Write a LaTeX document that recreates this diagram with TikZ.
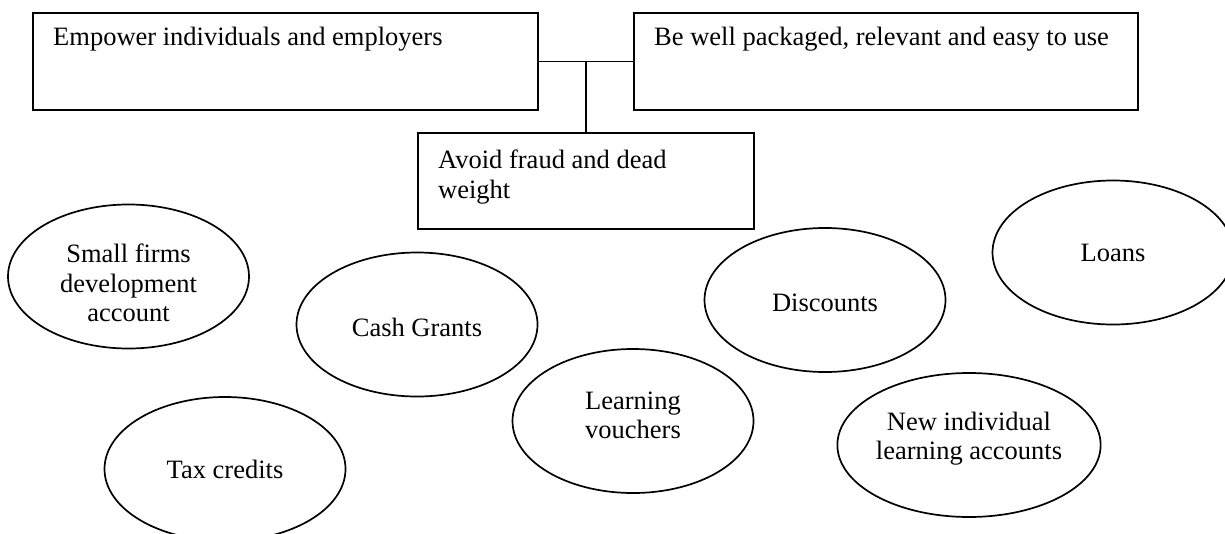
\documentclass[tikz,border=0pt]{standalone}
\usepackage{fontspec}
\setmainfont{Liberation Serif}
\usetikzlibrary{shapes.geometric,calc}
\begin{document}
\begin{tikzpicture}[x=1pt,y=-1pt,
  line/.style={line width=1.7pt, draw=black},
  box/.style={line, rectangle, inner sep=0pt, anchor=north west},
  boxtext/.style={anchor=base west, inner sep=0pt, align=left,
    font=\fontsize{26.5}{29.5}\selectfont},
  ell/.style={line, ellipse, inner sep=0pt, minimum width=241pt,
    minimum height=144pt, align=center,
    font=\fontsize{26.5}{29.5}\selectfont}]
\useasboundingbox (0,0) rectangle (1225,533);

% boxes
\node[box, minimum width=505pt, minimum height=97pt] (b1) at (32,12) {};
\node[box, minimum width=504pt, minimum height=97pt] (b2) at (633,12) {};
\node[box, minimum width=336pt, minimum height=96pt] (b3) at (417,132) {};

\node[boxtext] (t1) at ([xshift=21pt,yshift=-33pt]b1.north west) {Empower individuals and employers};
\node[boxtext] (t2) at ([xshift=21pt,yshift=-33pt]b2.north west) {Be well packaged, relevant and easy to use};
% base anchor of a two-line node is the last line's baseline
\node[boxtext] (t3) at ([xshift=21pt,yshift=-66pt]b3.north west) {Avoid fraud and dead\\weight};

% connectors
\coordinate (j) at ($(b1.east)!0.5!(b2.west)$);
\draw[line] (b1.east) -- (b2.west);
\draw[line] (j) -- (b3.north);

% ellipses
\node[ell] (sf) at (128.5,276.5) {\rule{0pt}{32pt}Small firms\\development\\account};
\node[ell] (cg) at (417,324.5) {\rule{0pt}{24pt}Cash Grants};
\node[ell] (tc) at (225,469) {Tax credits};
\node[ell] (lv) at (633,421) {Learning\\vouchers\rule[-12pt]{0pt}{12pt}};
\node[ell] (di) at (825,300) {\rule{0pt}{24pt}Discounts};
\node[ell] (lo) at (1113,252.5) {Loans};
\node[ell] (ni) at (969,445) {New individual\\learning accounts\rule[-18pt]{0pt}{18pt}};
\end{tikzpicture}
\end{document}
